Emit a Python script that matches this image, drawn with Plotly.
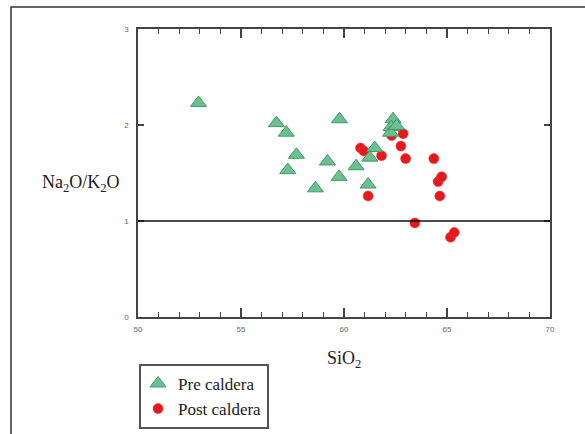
import plotly.graph_objects as go

# SiO2 (wt%) and Na2O/K2O for each sample group
pre_sio2 = [52.94, 56.72, 57.20, 57.69, 57.27, 58.61, 59.20, 59.78, 59.76, 60.59,
            61.17, 61.49, 61.25, 62.38, 62.29, 62.26, 62.55]
pre_ratio = [2.23, 2.02, 1.92, 1.69, 1.53, 1.34, 1.62, 2.06, 1.46, 1.57,
             1.38, 1.76, 1.66, 2.06, 1.98, 1.92, 1.99]

post_sio2 = [60.80, 60.96, 61.82, 62.31, 62.87, 62.76, 62.99, 61.17, 64.36, 64.57,
             64.74, 64.65, 63.44, 65.17, 65.35]
post_ratio = [1.76, 1.73, 1.68, 1.89, 1.91, 1.78, 1.65, 1.26, 1.65, 1.41,
              1.46, 1.26, 0.98, 0.83, 0.88]

x_ticks = [50, 55, 60, 65, 70]
y_ticks = [0, 1, 2, 3]
ref_ratio = 1

serif = "Times New Roman"
axis_col = "#444444"

fig = go.Figure()

fig.add_trace(go.Scatter(
    x=post_sio2, y=post_ratio, mode="markers", name="Post caldera",
    legendrank=2,
    marker=dict(symbol="circle", size=10, color="#e5181c",
                line=dict(width=0.6, color="#ee3a3a")),
))
fig.add_trace(go.Scatter(
    x=pre_sio2, y=pre_ratio, mode="markers", name="Pre caldera",
    legendrank=1,
    marker=dict(symbol="triangle-up", size=14, color="#6cc090",
                line=dict(width=1, color="#3f9a68")),
))

# horizontal reference line at Na2O/K2O = 1
fig.add_shape(type="line", xref="paper", yref="y", x0=0, x1=1,
              y0=ref_ratio, y1=ref_ratio, line=dict(color="#111111", width=1.5))

# outer frame around the figure
fig.add_shape(type="rect", xref="paper", yref="paper",
              x0=-0.3083, x1=1.25, y0=-0.6, y1=1.0764,
              line=dict(color="#333333", width=1.5), layer="below")

tick_font = dict(family="Liberation Sans", size=8, color="#666666")

fig.update_xaxes(
    range=[50, 70], tickvals=x_ticks, ticktext=[str(v) for v in x_ticks],
    ticks="inside", ticklen=9, tickwidth=1.5, tickcolor=axis_col,
    minor=dict(dtick=1, ticks="inside", ticklen=5, tickwidth=1.2, tickcolor=axis_col),
    showline=True, linecolor=axis_col, linewidth=1.5, mirror="allticks",
    showgrid=False, zeroline=False, tickfont=tick_font, ticklabelstandoff=4,
)
fig.update_yaxes(
    range=[0, 3], tickvals=y_ticks, ticktext=[str(v) for v in y_ticks],
    ticks="inside", ticklen=6, tickwidth=1.5, tickcolor=axis_col,
    showline=True, linecolor=axis_col, linewidth=1.5, mirror="allticks",
    showgrid=False, zeroline=False, tickfont=tick_font, ticklabelstandoff=6,
)

fig.add_annotation(text="SiO<sub>2</sub>", xref="paper", yref="paper",
                   x=0.5, y=-0.149, xanchor="center", yanchor="middle",
                   showarrow=False, font=dict(family=serif, size=18, color="#222222"))
fig.add_annotation(text="Na<sub>2</sub>O/K<sub>2</sub>O", xref="paper", yref="paper",
                   x=-0.138, y=0.465, xanchor="center", yanchor="middle",
                   showarrow=False, font=dict(family=serif, size=18, color="#222222"))

fig.update_layout(
    width=585, height=434,
    margin=dict(l=138, r=35, t=29, b=117, autoexpand=False),
    paper_bgcolor="white", plot_bgcolor="white",
    font=dict(family=serif),
    showlegend=True,
    legend=dict(
        x=0.0025, y=-0.163, xanchor="left", yanchor="top",
        bordercolor="#555555", borderwidth=2, bgcolor="white",
        font=dict(family=serif, size=17, color="#222222"),
        itemwidth=30, tracegroupgap=0, indentation=-3,
    ),
)

fig.write_html("out.html")
